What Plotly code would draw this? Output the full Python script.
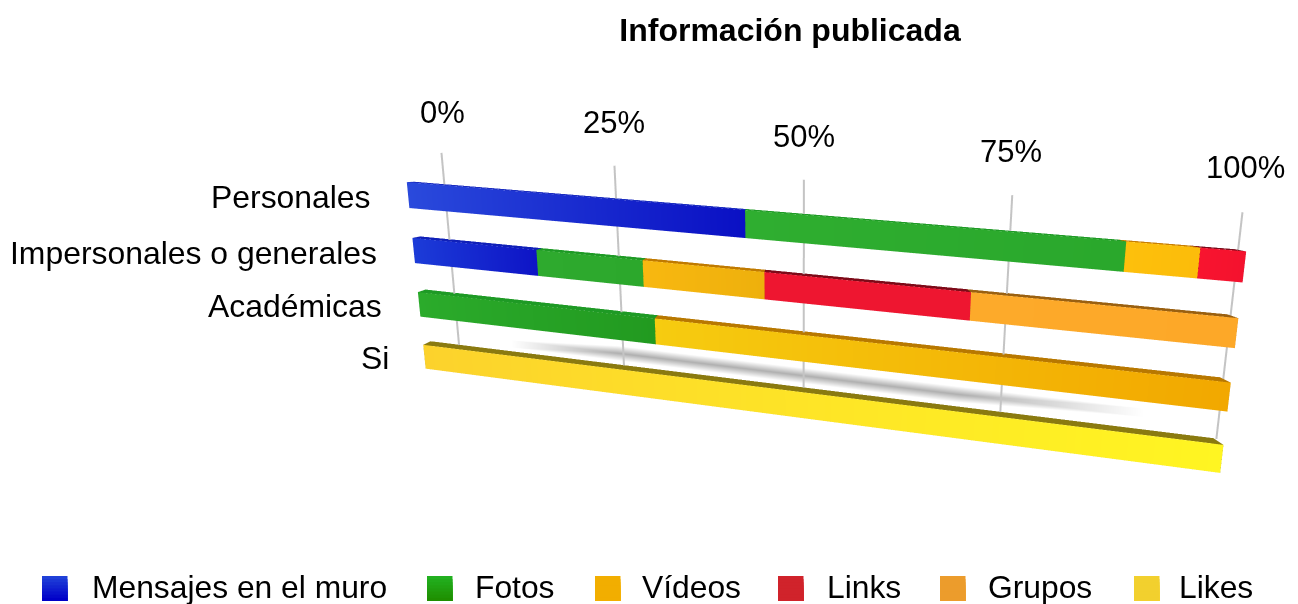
import numpy as np
import plotly.graph_objects as go

# ---------- chart data ----------
categories = ["Personales", "Impersonales o generales", "Académicas", "Si"]
series_names = ["Mensajes en el muro", "Fotos", "Vídeos", "Links", "Grupos", "Likes"]
mensajes = [45.2, 17.7, 0.0, 0.0]
fotos = [42.8, 14.3, 33.3, 0.0]
videos = [7.5, 15.5, 66.7, 0.0]
links = [4.5, 24.3, 0.0, 0.0]
grupos = [0.0, 28.2, 0.0, 0.0]
likes = [0.0, 0.0, 0.0, 100.0]
tick_values = [0, 25, 50, 75, 100]
tick_labels = ["0%", "25%", "50%", "75%", "100%"]

# ---------- scene set-up (the page puts the figure 8 px in from the corner) ----------
W, H = 1290, 596
xr = (-16.0, 112.0); yr = (-0.5, 4.2); zr = (0.0, 1.0)
AX, AY, AZ = 2.4, 0.6865, 0.042
EYE = dict(x=-0.0194, y=0.3222, z=1.7803)
CENTER = dict(x=-0.3430, y=-0.0631, z=0)
UP = dict(x=-0.0699, y=1, z=0)
BAR_START = -4.888      # bars begin a little left of the 0% gridline
BAR_HALF = 0.2304       # half a bar's height, in row units
GRID_TOP = 3.788
GRID_BOTTOM = 0.25
GRID_Z = 0.3
SKEW = -0.8506          # the oblique lean of the whole drawing
SKEW_Y = 1.5


def skew(x, y):
    return x + SKEW * (y - SKEW_Y)


row_y = [3, 2, 1, 0]
all_series = [mensajes, fotos, videos, links, grupos, likes]
# (series, row): colour at the bar's left end, at its right end, and of its top face
styles = {
    (0, 0): ("#2a4adc", "#0a10c4", "#1a2cc0"), (1, 0): ("#2fae30", "#2aa82c", "#1e9a25"),
    (2, 0): ("#fdc00c", "#fcbc0a", "#c87e00"), (3, 0): ("#f8142f", "#f4122e", "#7a0a1a"),
    (0, 1): ("#1c3cd8", "#0e14c6", "#1020b8"), (1, 1): ("#2eaa2e", "#2ca82c", "#1e9a25"),
    (2, 1): ("#f8b810", "#eeb00c", "#c07a00"), (3, 1): ("#ee1630", "#ee1630", "#7d0a18"),
    (4, 1): ("#fdaa2a", "#fda828", "#9a6010"),
    (1, 2): ("#2bab2b", "#229a20", "#1e9a25"), (2, 2): ("#f6cc10", "#f2a800", "#b87800"),
    (5, 3): ("#fcd22c", "#fff522", "#8a7a10"),
}
FLAT = dict(ambient=1, diffuse=0, specular=0, fresnel=0)
fig = go.Figure()

# soft shadow between the last two bars
sx = [8, 24, 70, 92]; sy = [0.30, 0.44, 0.58]
vx, vy, vz, vc, ti, tj, tk = [], [], [], [], [], [], []
for a, yy in enumerate(sy):
    for b, xx in enumerate(sx):
        vx.append(skew(xx, yy)); vy.append(yy); vz.append(0.0)
        vc.append("#b0b0b0" if (a == 1 and 0 < b < 3) else "#ffffff")
for a in range(2):
    for b in range(3):
        n = a * 4 + b
        ti += [n, n]; tj += [n + 1, n + 5]; tk += [n + 5, n + 4]
fig.add_trace(go.Mesh3d(x=vx, y=vy, z=vz, i=ti, j=tj, k=tk, vertexcolor=vc, hoverinfo="skip", lighting=FLAT))

# gridlines
lx, ly, lz = [], [], []
for g in tick_values:
    lx += [skew(g, GRID_BOTTOM), skew(g, GRID_TOP), None]
    ly += [GRID_BOTTOM, GRID_TOP, None]
    lz += [GRID_Z, GRID_Z, None]
fig.add_trace(go.Scatter3d(x=lx, y=ly, z=lz, mode="lines", line=dict(color="#c4c4c4", width=4), hoverinfo="skip"))

# stacked bars, one mesh per series
scale = (100 - BAR_START) / 100
cum = [0.0] * 4
for si, vals in enumerate(all_series):
    X, Y, Z, C, I, J, K = [], [], [], [], [], [], []
    for ri, v in enumerate(vals):
        if v <= 0:
            continue
        x0 = BAR_START + cum[ri] * scale
        x1 = BAR_START + (cum[ri] + v) * scale
        cum[ri] += v
        r = row_y[ri]
        c0, c1, ct = styles[(si, ri)]
        y0, y1 = r - BAR_HALF, r + BAR_HALF
        faces = [
            ([(x0, y0, 1), (x1, y0, 1), (x1, y1, 1), (x0, y1, 1)], [c0, c1, c1, c0]),
            ([(x0, y1, 1), (x1, y1, 1), (x1, y1, 0), (x0, y1, 0)], [ct] * 4),
            ([(x1, y0, 1), (x1, y1, 1), (x1, y1, 0), (x1, y0, 0)], [ct] * 4),
            ([(x0, y0, 1), (x0, y1, 1), (x0, y1, 0), (x0, y0, 0)], [ct] * 4),
            ([(x0, y0, 1), (x1, y0, 1), (x1, y0, 0), (x0, y0, 0)], [ct] * 4),
        ]
        for verts, cols in faces:
            n = len(X)
            for (a, b, d), col in zip(verts, cols):
                X.append(skew(a, b)); Y.append(b); Z.append(d); C.append(col)
            I += [n, n]; J += [n + 1, n + 2]; K += [n + 2, n + 3]
    fig.add_trace(go.Mesh3d(x=X, y=Y, z=Z, i=I, j=J, k=K, vertexcolor=C, name=series_names[si],
                            lighting=FLAT, flatshading=False))

FONT = "Liberation Sans, Arial, sans-serif"
scene_ann = []
tick_yshift = [40, 43, 43, 44, 45]
tick_xshift = [1, 0, 0, -1, 3]
for g, t, ys, xs in zip(tick_values, tick_labels, tick_yshift, tick_xshift):
    scene_ann.append(dict(x=skew(g, GRID_TOP), y=GRID_TOP, z=GRID_Z, text=t, showarrow=False, yshift=ys, xshift=xs,
                          font=dict(family=FONT, size=31, color="#000")))
row_xshift = [-35, -35, -35, -33]
row_yshift = [-2, -2, -2, -1]
for ri, t in enumerate(categories):
    r = row_y[ri]
    scene_ann.append(dict(x=skew(BAR_START, r), y=r, z=1, text=t, showarrow=False, xanchor="right",
                          xshift=row_xshift[ri], yshift=row_yshift[ri],
                          font=dict(family=FONT, size=31.9, color="#000")))

# legend keys and labels
legend_x = [34, 419, 587, 770, 932, 1126]
legend_tx = [82, 465, 632, 817, 978, 1169]
legend_top = ["#2040d8", "#22b020", "#f2ae00", "#d0232b", "#ec9c2c", "#f2d02e"]
legend_bot = ["#0000c8", "#1f8f00", "#f2ae00", "#d0232b", "#ec9c2c", "#f2d02e"]


def hex2(c):
    return np.array([int(c[i:i + 2], 16) for i in (1, 3, 5)])


shapes, anns = [], []
for n, nm in enumerate(series_names):
    t, b = hex2(legend_top[n]), hex2(legend_bot[n])
    for step in range(8):
        col = (t + (b - t) * step / 7).round().astype(int)
        y0 = 568 + step * 25 / 8
        shapes.append(dict(type="rect", xref="paper", yref="paper", x0=legend_x[n] / W, x1=(legend_x[n] + 25.5) / W,
                           y0=1 - y0 / H, y1=1 - 593 / H, line=dict(width=0),
                           fillcolor="rgb(%d,%d,%d)" % tuple(col)))
    anns.append(dict(text=nm, x=legend_tx[n] / W, y=1 - 578.5 / H, xref="paper", yref="paper", xanchor="left",
                     yanchor="middle", showarrow=False, font=dict(family=FONT, size=31.8, color="#000")))

hidden = dict(visible=False, showgrid=False, zeroline=False, showspikes=False)
fig.update_layout(
    width=W, height=H, margin=dict(l=0, r=0, t=0, b=0), showlegend=False, paper_bgcolor="#fff",
    title=dict(text="<b>Información publicada</b>", x=782 / W, xanchor="center", y=1 - 22 / H, yanchor="middle",
               font=dict(family=FONT, size=32, color="#000")),
    shapes=shapes, annotations=anns,
    scene=dict(domain=dict(x=[0, 1], y=[0, 1]), aspectmode="manual",
               aspectratio=dict(x=AX, y=AY, z=AZ),
               xaxis=dict(range=list(xr), **hidden), yaxis=dict(range=list(yr), **hidden),
               zaxis=dict(range=list(zr), **hidden),
               annotations=scene_ann,
               camera=dict(eye=EYE, center=CENTER, up=UP)))
fig.write_html("out.html")
